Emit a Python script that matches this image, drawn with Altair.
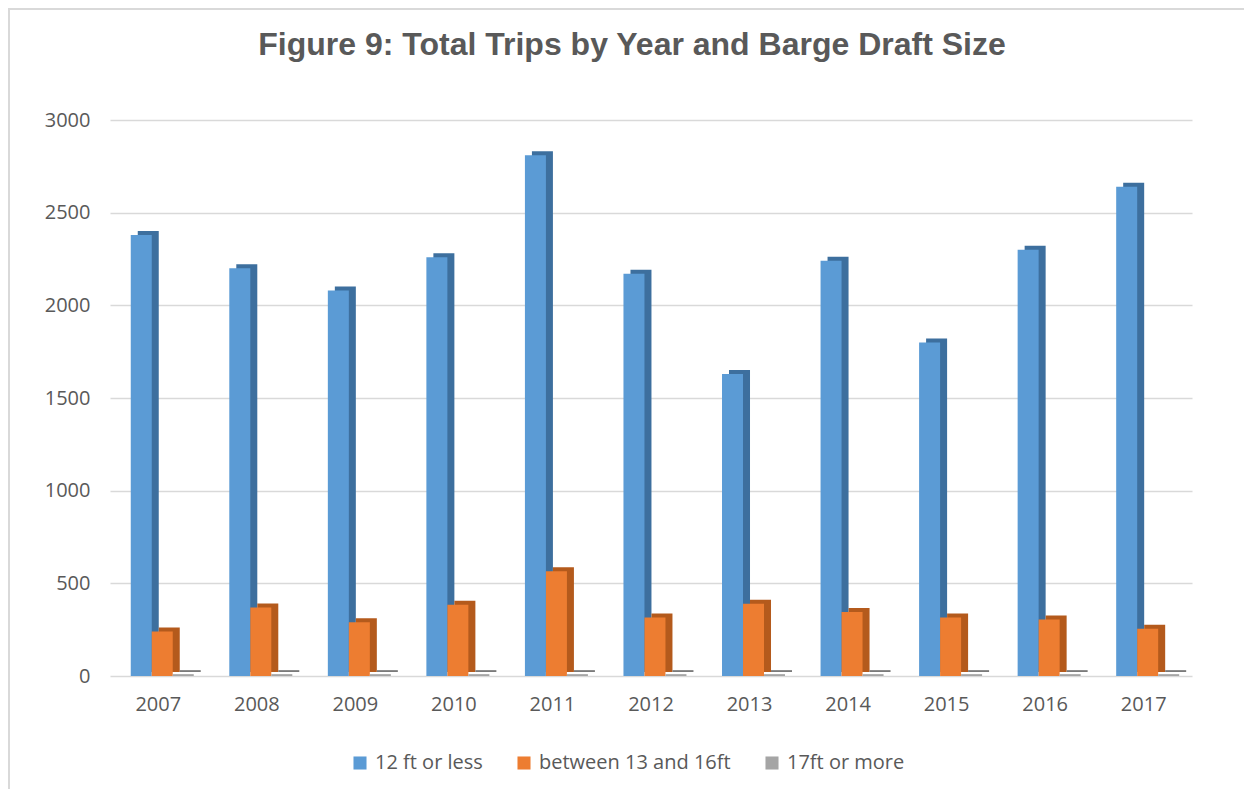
import altair as alt
import pandas as pd

years = ["2007", "2008", "2009", "2010", "2011", "2012", "2013", "2014", "2015", "2016", "2017"]
ft12_or_less = [2380, 2200, 2080, 2260, 2810, 2170, 1630, 2240, 1800, 2300, 2640]
ft13_to_16 = [240, 370, 290, 385, 565, 315, 390, 345, 315, 305, 255]
ft17_or_more = [10, 10, 10, 10, 10, 10, 10, 10, 10, 10, 10]

title_text = "Figure 9: Total Trips by Year and Barge Draft Size"
series = ["12 ft or less", "between 13 and 16ft", "17ft or more"]
colors = ["#5B9BD5", "#ED7D31", "#A5A5A5"]
dark_colors = ["#3D6F9E", "#B45A1C", "#7A7A7A"]

rows = []
for i, yr in enumerate(years):
    for s, vals in zip(series, [ft12_or_less, ft13_to_16, ft17_or_more]):
        rows.append({"year": yr, "series": s, "value": vals[i]})
df = pd.DataFrame(rows)

TXT = "#595959"
FONT = "Open Sans"
W, H = 1082, 556

x_enc = alt.X(
    "year:N",
    sort=years,
    title=None,
    scale=alt.Scale(paddingInner=0.36, paddingOuter=0.17),
    axis=alt.Axis(labelAngle=0, labelFontSize=20, labelColor=TXT, labelFont=FONT,
                  ticks=False, domain=False, labelPadding=18, grid=False),
)
y_enc = alt.Y(
    "value:Q",
    title=None,
    scale=alt.Scale(domain=[0, 3000], nice=False),
    axis=alt.Axis(values=[0, 500, 1000, 1500, 2000, 2500, 3000], format="d",
                  labelFontSize=20, labelColor=TXT, labelFont=FONT, ticks=False,
                  domain=False, labelPadding=20, gridColor="#D9D9D9", gridWidth=1.5),
)

side = alt.Chart(df).mark_bar(yOffset=-4, y2Offset=-4).encode(
    x=x_enc,
    xOffset=alt.XOffset("series:N", sort=series,
                        scale=alt.Scale(range=[11, 74], paddingInner=0, paddingOuter=0)),
    y=y_enc,
    color=alt.Color("series:N", sort=series,
                    scale=alt.Scale(domain=series, range=dark_colors), legend=None),
)

front = alt.Chart(df).mark_bar().encode(
    x=x_enc,
    xOffset=alt.XOffset("series:N", sort=series,
                        scale=alt.Scale(range=[4, 67], paddingInner=0, paddingOuter=0)),
    y=y_enc,
    color=alt.Color(
        "series:N", sort=series, title=None,
        scale=alt.Scale(domain=series, range=colors),
        legend=alt.Legend(orient="none", legendX=240, legendY=633, direction="horizontal",
                          symbolType="square", symbolSize=170, symbolStrokeWidth=0,
                          labelFontSize=20, labelColor=TXT, labelFont=FONT, labelLimit=400,
                          columnPadding=31, symbolOffset=0, labelOffset=5),
    ),
)

one = pd.DataFrame({"t": [title_text]})

border = alt.Chart(one).mark_rect(
    fill="transparent", stroke="#D9D9D9", strokeWidth=2
).encode(
    x=alt.value(-101), x2=alt.value(W + 200),
    y=alt.value(-111), y2=alt.value(H + 200),
)

title = alt.Chart(one).mark_text(
    font="Liberation Sans", fontSize=32, fontWeight="bold", color=TXT,
    align="center", baseline="middle",
).encode(
    text="t:N",
    x=alt.value(522), y=alt.value(-75),
)

chart = (
    alt.layer(border, title, side, front)
    .resolve_scale(color="independent", xOffset="independent")
    .properties(
        width=W,
        height=H,
        autosize=alt.AutoSizeParams(type="none"),
        padding={"left": 102, "top": 112, "right": 52, "bottom": 113},
        background="white",
    )
    .configure_view(stroke="transparent", strokeWidth=0)
)

chart.save("out.html", embed_options={"renderer": "svg", "actions": False})
